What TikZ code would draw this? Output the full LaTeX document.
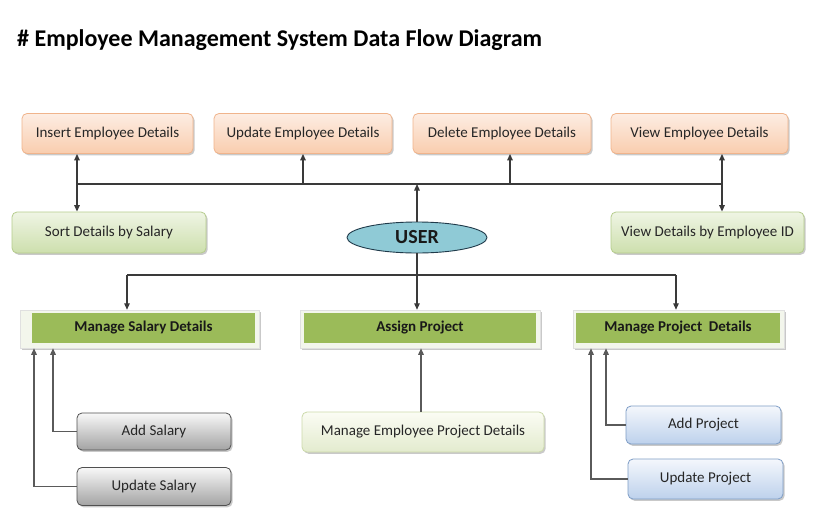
\documentclass[tikz,border=0pt]{standalone}
\usepackage{fontspec}
\setmainfont{Carlito}
\usetikzlibrary{arrows.meta,shadows,shapes.geometric,calc}
\definecolor{orT}{HTML}{FDEDE3}
\definecolor{orB}{HTML}{F9CDAE}
\definecolor{orD}{HTML}{F0B48C}
\definecolor{grT}{HTML}{EFF5E4}
\definecolor{grB}{HTML}{CDDFAD}
\definecolor{grD}{HTML}{B5CC8C}
\definecolor{gyT}{HTML}{F8F8F8}
\definecolor{gyB}{HTML}{A3A3A3}
\definecolor{gyD}{HTML}{505050}
\definecolor{blT}{HTML}{F4F7FC}
\definecolor{blB}{HTML}{BDD1EC}
\definecolor{blD}{HTML}{7E9DC6}
\definecolor{ltT}{HTML}{FBFCF4}
\definecolor{ltB}{HTML}{E3EBCE}
\definecolor{ltD}{HTML}{CCDAAA}
\definecolor{usrF}{HTML}{8FCAD6}
\definecolor{usrD}{HTML}{203A4A}
\definecolor{mgr}{HTML}{9BBB59}
\definecolor{frm}{HTML}{F3F6EC}
\definecolor{lnA}{HTML}{3A3A3A}
\definecolor{lnB}{HTML}{5A5A5A}
\tikzset{
  shad/.style={drop shadow={shadow xshift=1.6pt,shadow yshift=-1.8pt,opacity=0.35,fill=black!60}},
  boxbase/.style={rectangle,rounded corners=5pt,inner sep=0pt,line width=0.8pt,shad,font=\fontsize{15}{17}\selectfont,text=black!85},
  orbox/.style={boxbase,draw=orD,top color=orT,bottom color=orB},
  grbox/.style={boxbase,draw=grD,top color=grT,bottom color=grB},
  gybox/.style={boxbase,draw=gyD,top color=gyT,bottom color=gyB},
  blbox/.style={boxbase,draw=blD,top color=blT,bottom color=blB},
  ltbox/.style={boxbase,draw=ltD,top color=ltT,bottom color=ltB},
  framebox/.style={rectangle,inner sep=0pt,fill=frm,draw=black!12,line width=0.5pt,shad},
  greenbar/.style={rectangle,inner sep=0pt,fill=mgr,font=\bfseries\fontsize{15}{17}\selectfont,text=black!90},
  connA/.style={draw=lnA,line width=1.3pt},
  connB/.style={draw=lnB,line width=1.3pt},
  tip/.style={-{Triangle[length=6.5pt,width=5.5pt]}},
  tips/.style={{Triangle[length=6.5pt,width=5.5pt]}-{Triangle[length=6.5pt,width=5.5pt]}}
}
\begin{document}
\begin{tikzpicture}[x=1pt,y=-1pt]
\useasboundingbox (0,0) rectangle (815,528);
\fill[white] (0,0) rectangle (815,528);
% title
\node[anchor=west,inner sep=0pt,font=\bfseries\fontsize{24}{28}\selectfont] (title) at (17,40) {\# Employee Management System Data Flow Diagram};
% top boxes
\node[orbox,minimum width=171pt,minimum height=40pt] (ins) at (107.5,133.5) {Insert Employee Details};
\node[orbox,minimum width=178pt,minimum height=40pt] (upd) at (303,133.5) {Update Employee Details};
\node[orbox,minimum width=178pt,minimum height=40pt] (del) at (502,133.5) {Delete Employee Details};
\node[orbox,minimum width=177pt,minimum height=40pt] (view) at (699.5,133.5) {View Employee Details};
% second row
\node[grbox,minimum width=194pt,minimum height=41pt] (sort) at (109,232.5) {Sort Details by Salary};
\node[grbox,minimum width=193pt,minimum height=41pt] (vid) at (707.5,232.5) {View Details by Employee ID};
\node[ellipse,draw=usrD,fill=usrF,line width=0.9pt,minimum width=140pt,minimum height=31pt,inner sep=0pt,font=\bfseries\fontsize{20}{22}\selectfont,text=black!90] (user) at (417,237.5) {USER};
% manage bars
\node[framebox,minimum width=239pt,minimum height=38pt] (msal) at (139.5,329) {};
\node[greenbar,minimum width=223pt,minimum height=30pt] (msalg) at (143.5,328) {Manage Salary Details};
\node[framebox,minimum width=240pt,minimum height=38pt] (asg) at (420,329) {};
\node[greenbar,minimum width=232pt,minimum height=30pt] (asgg) at (420,328) {Assign Project};
\node[framebox,minimum width=211pt,minimum height=38pt] (mpd) at (678.5,329) {};
\node[greenbar,minimum width=204pt,minimum height=30pt] (mpdg) at (678,328) {Manage Project\ \ Details};
% bottom boxes
\node[gybox,minimum width=154pt,minimum height=37pt] (adds) at (154,431.5) {Add Salary};
\node[gybox,minimum width=154pt,minimum height=38pt] (upds) at (154,486.5) {Update Salary};
\node[ltbox,minimum width=242pt,minimum height=40pt] (mep) at (423,432) {Manage Employee Project Details};
\node[blbox,minimum width=155pt,minimum height=38pt] (addp) at (703.5,425) {Add Project};
\node[blbox,minimum width=155pt,minimum height=40pt] (updp) at (705.5,479) {Update Project};
% coordinates
\coordinate (b1) at (77,184);
\coordinate (b2) at (722,184);
\coordinate (dx) at (510,184);
\coordinate (jl) at (127,275);
\coordinate (jr) at (676,275);
\coordinate (s1) at (53,0);
\coordinate (s2) at (34,0);
\coordinate (p1) at (606,0);
\coordinate (p2) at (591,0);
\coordinate (mq) at (421,0);
% top connectors
\draw[connA] (b1) -- (b2);
\draw[connA,tips] (b1 |- ins.south) -- (b1 |- sort.north);
\draw[connA,tip] (upd.south |- b1) -- (upd.south);
\draw[connA,tip] (dx) -- (dx |- del.south);
\draw[connA,tip] (user.north) -- (user.north |- b1);
\draw[connA,tips] (b2 |- view.south) -- (b2 |- vid.north);
% bottom connectors
\draw[connA,tip] (user.south) -- (user.south |- asg.north);
\draw[connA] (jl) -- (jr);
\draw[connA,tip] (jl) -- (jl |- msal.north);
\draw[connA,tip] (jr) -- (jr |- mpd.north);
\draw[connB,tip] (adds.west) -| (s1 |- msal.south);
\draw[connB,tip] (upds.west) -| (s2 |- msal.south);
\draw[connB,tip] (addp.west) -| (p1 |- mpd.south);
\draw[connB,tip] (updp.west) -| (p2 |- mpd.south);
\draw[connB,tip] (mq |- mep.north) -- (mq |- asg.south);
\end{tikzpicture}
\end{document}
